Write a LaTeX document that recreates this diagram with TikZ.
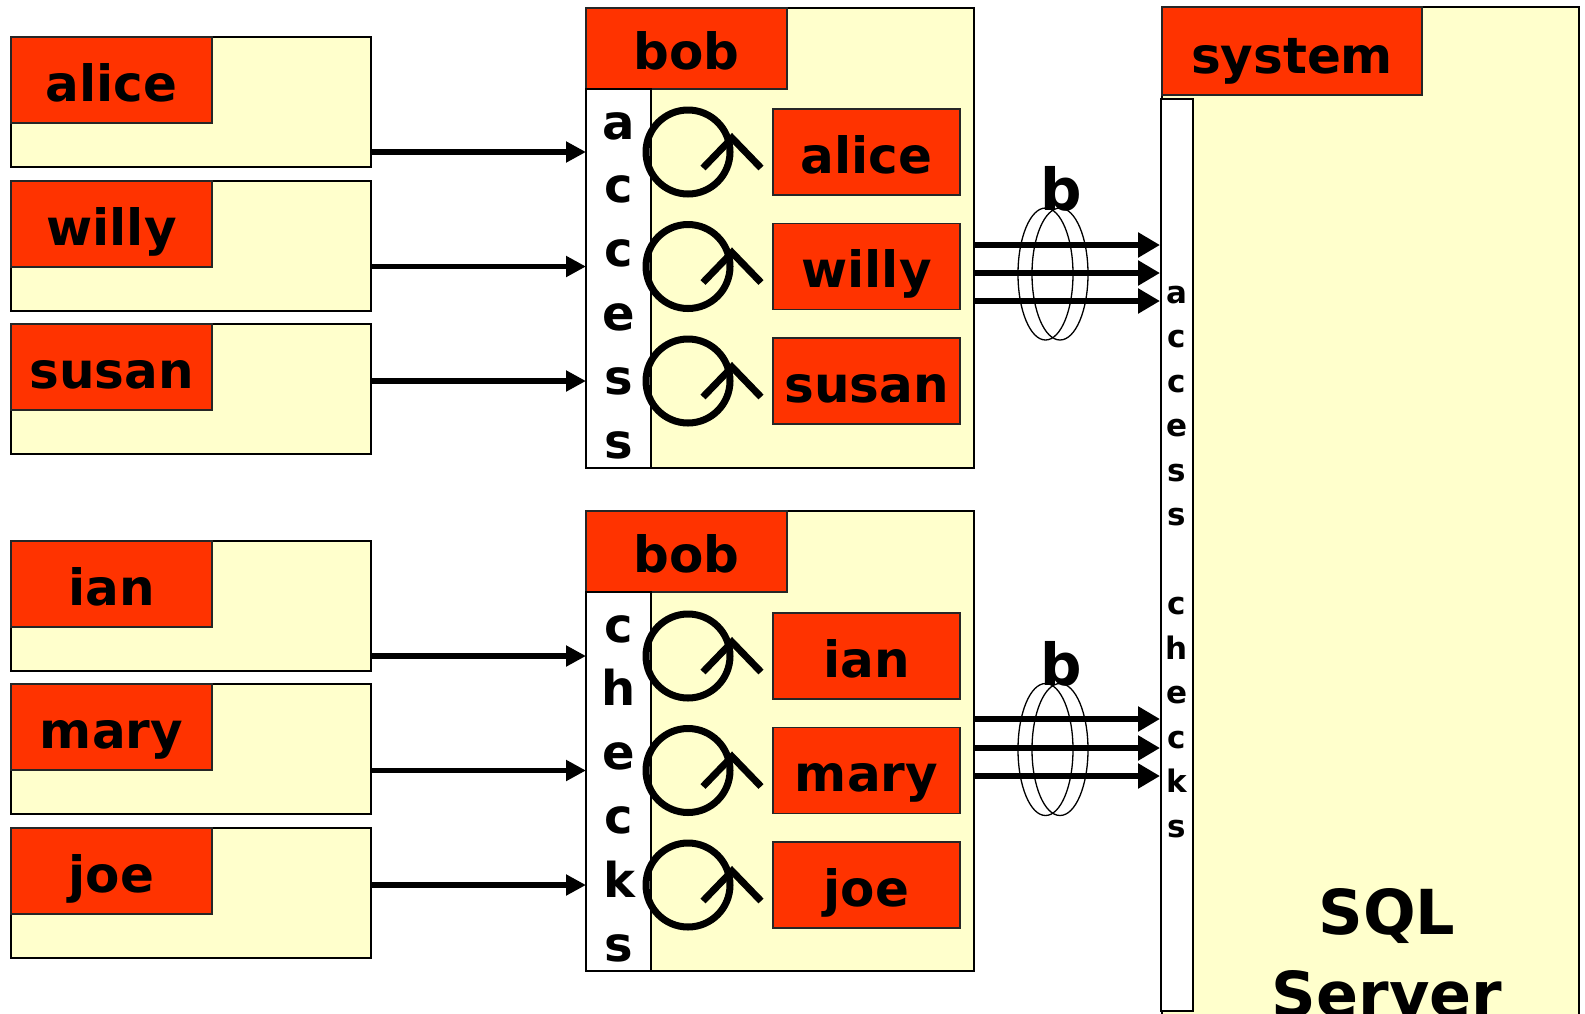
\documentclass[tikz,border=0pt]{standalone}
\usepackage{fontspec}
\setmainfont{DejaVu Sans}
\usetikzlibrary{arrows.meta,calc}
\definecolor{lblred}{HTML}{FF3300}
\definecolor{paleyel}{HTML}{FFFFCC}
\begin{document}
\begin{tikzpicture}[x=1pt,y=-1pt,
  frame/.style={draw=black, line width=1.5pt, fill=paleyel},
  tagbox/.style={draw=black!85, line width=1.5pt, fill=lblred},
  stripbox/.style={draw=black, line width=1.5pt, fill=white},
  lbl/.style={font=\fontsize{50}{60}\selectfont\bfseries, anchor=base, inner sep=0pt},
  bigletter/.style={font=\fontsize{48}{60}\selectfont\bfseries, anchor=base, inner sep=0pt},
  smallletter/.style={font=\fontsize{31}{40}\selectfont\bfseries, anchor=base, inner sep=0pt},
  bundlelbl/.style={font=\fontsize{58}{70}\selectfont\bfseries, anchor=base, inner sep=0pt},
  sqltext/.style={font=\fontsize{62}{80}\selectfont\bfseries, anchor=base, inner sep=0pt},
  inarrow/.style={line width=5.5pt, -{Triangle[length=20pt,width=20pt]}},
  outarrow/.style={line width=6.5pt, -{Triangle[length=22pt,width=24pt]}},
  loopline/.style={line width=7pt},
  ringline/.style={line width=1.3pt}
]
\clip (0,0) rectangle (1585,1013);
\useasboundingbox (0,0) rectangle (1585,1013);
\fill[white] (0,0) rectangle (1585,1013);

% ---------- left user boxes ----------
\foreach \nm/\ty/\ay in {alice/37/152, willy/181/266.5, susan/324/381, ian/541/656, mary/684/770.5, joe/828/885} {
  \draw[frame] (11,\ty) rectangle (371,{\ty+130});
  \draw[tagbox] (11,\ty) rectangle (212,{\ty+86});
  \node[lbl] (L\nm) at (111.5,{\ty+43+21}) {\nm};
  \coordinate (S\nm) at (371,\ay);
  \coordinate (E\nm) at (586,\ay);
}

% ---------- bob boxes ----------
\foreach \T/\lab in {8/top, 511/bot} {
  \draw[frame] (586,\T) rectangle (974,{\T+460});
  \draw[tagbox] (586,\T) rectangle (787,{\T+81});
  \draw[stripbox] (586,{\T+81}) rectangle (651,{\T+460});
  \node[lbl] (bob\lab) at (686.5,{\T+40.5+21}) {bob};
}
\foreach \ch [count=\i from 0] in {a,c,c,e,s,s}
  \node[bigletter] (acc\i) at (619,{139+63.9*\i}) {\ch};
\foreach \ch [count=\i from 0] in {c,h,e,c,k,s}
  \node[bigletter] (chk\i) at (619,{642+63.9*\i}) {\ch};

% ---------- inner proxies with loop symbols ----------
\foreach \nm/\yc in {alice/152, willy/266.5, susan/381, ian/656, mary/770.5, joe/885} {
  \draw[tagbox] (773,{\yc-43}) rectangle (960,{\yc+43});
  \node[lbl] (I\nm) at (866.5,{\yc+21}) {\nm};
  \coordinate (C\nm) at (688,\yc);
  \draw[loopline] (C\nm) circle (42);
  \draw[loopline] ($(C\nm)+(15,16)$) -- ($(C\nm)+(44,-14)$) -- ($(C\nm)+(73,16)$);
}

% arrows into bob
\foreach \nm in {alice,willy,susan,ian,mary,joe}
  \draw[inarrow] (S\nm) -- (E\nm);

% ---------- system box ----------
\draw[frame] (1162,7) rectangle (1579,1040);
\draw[tagbox] (1162,7) rectangle (1422,95);
\node[lbl] (sys) at (1292,{51+22}) {system};
\draw[stripbox] (1161,99) rectangle (1193,1011);
\foreach \ch [count=\i from 0] in {a,c,c,e,s,s}
  \node[smallletter] (sacc\i) at (1177,{303+44.5*\i}) {\ch};
\foreach \ch [count=\i from 7] in {c,h,e,c,k,s}
  \node[smallletter] (schk\i) at (1177,{303+44.5*\i}) {\ch};
\node[sqltext] (sql) at (1387,934) {SQL};
\node[sqltext] (server) at (1387,1016) {Server};

% ---------- bundled arrows to system ----------
\foreach \y [count=\k] in {245,273,301,719,748,776} {
  \coordinate (OS\k) at (974,\y);
  \coordinate (OE\k) at (1160,\y);
  \draw[outarrow] (OS\k) -- (OE\k);
}
\foreach \yc/\lab in {274/top, 749.5/bot} {
  \coordinate (R1\lab) at (1045.5,\yc);
  \coordinate (R2\lab) at (1060,\yc);
  \draw[ringline] (R1\lab) ellipse [x radius=27.5, y radius=66];
  \draw[ringline] (R2\lab) ellipse [x radius=28, y radius=66];
}
\node[bundlelbl] (btop) at (1061,210) {b};
\node[bundlelbl] (bbot) at (1061,685) {b};
\end{tikzpicture}
\end{document}
